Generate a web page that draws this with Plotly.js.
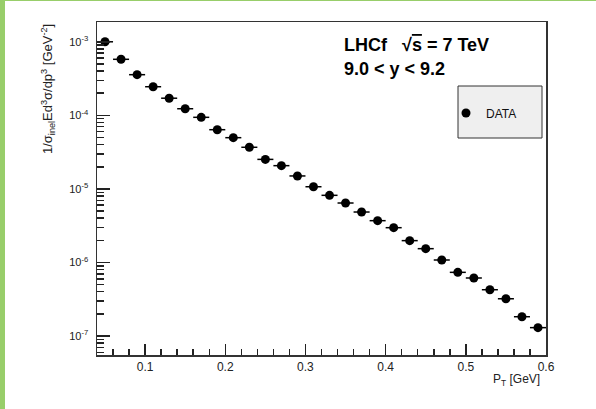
<!DOCTYPE html>
<html>
<head>
<meta charset="utf-8">
<script src="https://cdn.plot.ly/plotly-3.0.1.min.js"></script>
<style>
  html, body { margin: 0; padding: 0; background: #ffffff; }
  #wrap { position: relative; width: 596px; height: 409px; overflow: hidden; }
  #chart { position: absolute; left: 0; top: 0; width: 596px; height: 409px; }
  #gl { position: absolute; left: 0; top: 0; width: 5px; height: 409px; background: rgb(152,206,106); }
  #gt { position: absolute; left: 0; top: 0; width: 596px; height: 1px; background: rgb(152,206,106); }
</style>
</head>
<body>
<div id="wrap">
  <div id="chart"></div>
  <div id="gl"></div>
  <div id="gt"></div>
</div>
<script>
// ---- data ----
const pt = [0.05, 0.07, 0.09, 0.11, 0.13, 0.15, 0.17, 0.19, 0.21, 0.23,
            0.25, 0.27, 0.29, 0.31, 0.33, 0.35, 0.37, 0.39, 0.41, 0.43,
            0.45, 0.47, 0.49, 0.51, 0.53, 0.55, 0.57, 0.59];
const xsec = [1.0e-3, 5.78e-4, 3.57e-4, 2.45e-4, 1.71e-4, 1.23e-4, 9.4e-5, 6.38e-5, 4.97e-5, 3.68e-5,
              2.52e-5, 2.07e-5, 1.50e-5, 1.07e-5, 8.18e-6, 6.43e-6, 4.85e-6, 3.70e-6, 2.97e-6, 1.98e-6,
              1.54e-6, 1.08e-6, 7.34e-7, 6.15e-7, 4.26e-7, 3.21e-7, 1.83e-7, 1.30e-7];
const ptHalfBin = 0.01;
const xTickVals = [0.1, 0.2, 0.3, 0.4, 0.5, 0.6];
const xTickText = ['0.1', '0.2', '0.3', '0.4', '0.5', '0.6'];
const yTickVals = [1e-7, 1e-6, 1e-5, 1e-4, 1e-3];
const yTickText = ['10<sup>-7</sup>', '10<sup>-6</sup>', '10<sup>-5</sup>', '10<sup>-4</sup>', '10<sup>-3</sup>'];
const seriesName = 'DATA';
const titleLine1 = 'LHCf\u00a0\u00a0\u00a0\u221A<span style="text-decoration:overline">s</span> = 7 TeV';
const titleLine2 = '9.0 < y < 9.2';
const yTitle = '1/\u03c3<sub>inel</sub>Ed<sup>3</sup>\u03c3/dp<sup>3</sup> [GeV<sup>-2</sup>]';
const xTitle = 'P<sub>T</sub> [GeV]';

// ---- layout geometry (pixels) ----
const W = 596, H = 409;
const L = 97, R = 50, T = 22, B = 54;
const pw = W - L - R, ph = H - T - B;
const px = v => (v - L) / pw;
const py = v => (H - B - v) / ph;

const font = 'Liberation Sans, Arial, Helvetica, sans-serif';

const trace = {
  x: pt,
  y: xsec,
  type: 'scatter',
  mode: 'markers',
  name: seriesName,
  marker: { color: '#000000', size: 9, symbol: 'circle' },
  error_x: { type: 'constant', value: ptHalfBin, width: 0, thickness: 1.5, color: '#000000' },
  hoverinfo: 'x+y'
};

const layout = {
  width: W, height: H,
  margin: { l: L, r: R, t: T, b: B, pad: 0 },
  paper_bgcolor: '#ffffff',
  plot_bgcolor: '#ffffff',
  font: { family: font, color: '#222222', size: 11 },
  showlegend: true,
  legend: {
    x: px(446), xanchor: 'left', xref: 'paper',
    y: py(113), yanchor: 'middle', yref: 'paper',
    bgcolor: 'rgba(0,0,0,0)', borderwidth: 0,
    font: { family: font, size: 12, color: '#111111' }
  },
  xaxis: {
    range: [0.04, 0.6],
    tickmode: 'array', tickvals: xTickVals, ticktext: xTickText,
    ticks: 'inside', ticklen: 11, tickwidth: 1.5, tickcolor: '#222222',
    minor: { ticks: 'inside', ticklen: 6, tickwidth: 1.5, tickcolor: '#222222', dtick: 0.02, tick0: 0, showgrid: false },
    showgrid: false, zeroline: false,
    showline: true, linecolor: '#333333', linewidth: 1.5, mirror: true,
    tickfont: { family: font, size: 12, color: '#222222' },
    ticklabelstandoff: 0
  },
  yaxis: {
    type: 'log',
    range: [-7.258, -2.731],
    tickmode: 'array', tickvals: yTickVals, ticktext: yTickText,
    ticks: 'inside', ticklen: 13, tickwidth: 1.5, tickcolor: '#222222',
    minor: { ticks: 'inside', ticklen: 7, tickwidth: 1.5, tickcolor: '#222222', dtick: 'D1', showgrid: false },
    showgrid: false, zeroline: false,
    showline: true, linecolor: '#333333', linewidth: 1.5, mirror: true,
    tickfont: { family: font, size: 11, color: '#222222' },
    ticklabelstandoff: 5
  },
  shapes: [
    { type: 'rect', xref: 'paper', yref: 'paper', layer: 'below',
      x0: px(458), x1: px(542), y0: py(138), y1: py(86),
      fillcolor: '#efefef', line: { color: '#333333', width: 1 } }
  ],
  annotations: [
    { text: '<b>' + titleLine1 + '</b>', xref: 'paper', yref: 'paper',
      x: px(342), y: py(45), xanchor: 'left', yanchor: 'middle', showarrow: false,
      font: { family: font, size: 18, color: '#000000' } },
    { text: '<b>' + titleLine2 + '</b>', xref: 'paper', yref: 'paper',
      x: px(342), y: py(69), xanchor: 'left', yanchor: 'middle', showarrow: false,
      font: { family: font, size: 18, color: '#000000' } },
    { text: yTitle, xref: 'paper', yref: 'paper', textangle: -90,
      x: px(48), y: py(22), xanchor: 'center', yanchor: 'top', showarrow: false,
      font: { family: font, size: 13, color: '#222222' } },
    { text: xTitle, xref: 'paper', yref: 'paper',
      x: px(542), y: py(380), xanchor: 'right', yanchor: 'middle', showarrow: false,
      font: { family: font, size: 12, color: '#222222' } }
  ]
};

Plotly.newPlot('chart', [trace], layout, { staticPlot: true, displayModeBar: false });
</script>
</body>
</html>
